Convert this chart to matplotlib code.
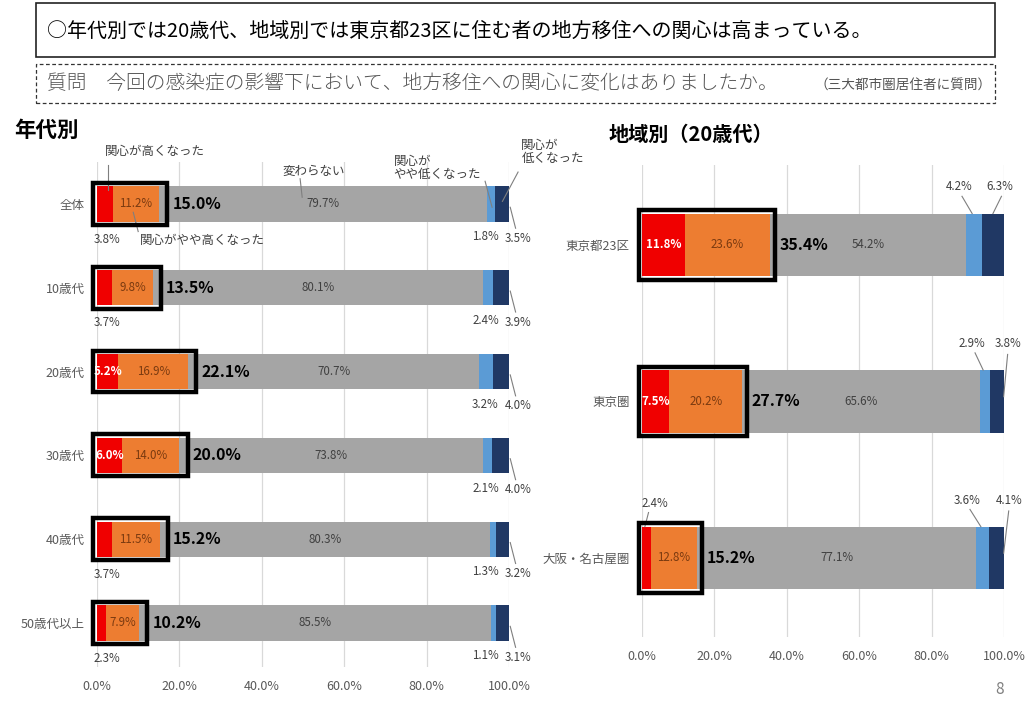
import matplotlib
matplotlib.use("Agg")
import matplotlib.pyplot as plt
from matplotlib.patches import Rectangle

plt.rcParams['font.family'] = ['Noto Sans CJK JP', 'DejaVu Sans']

# ---------------- data ----------------
age_cats = ["全体", "10歳代", "20歳代", "30歳代", "40歳代", "50歳代以上"]
age_high = [3.8, 3.7, 5.2, 6.0, 3.7, 2.3]
age_somewhat_high = [11.2, 9.8, 16.9, 14.0, 11.5, 7.9]
age_same = [79.7, 80.1, 70.7, 73.8, 80.3, 85.5]
age_somewhat_low = [1.8, 2.4, 3.2, 2.1, 1.3, 1.1]
age_low = [3.5, 3.9, 4.0, 4.0, 3.2, 3.1]
age_total = [15.0, 13.5, 22.1, 20.0, 15.2, 10.2]

reg_cats = ["東京都23区", "東京圏", "大阪・名古屋圏"]
reg_high = [11.8, 7.5, 2.4]
reg_somewhat_high = [23.6, 20.2, 12.8]
reg_same = [54.2, 65.6, 77.1]
reg_somewhat_low = [4.2, 2.9, 3.6]
reg_low = [6.3, 3.8, 4.1]
reg_total = [35.4, 27.7, 15.2]

x_ticks = [0, 20, 40, 60, 80, 100]
x_ticklabels = ["0.0%", "20.0%", "40.0%", "60.0%", "80.0%", "100.0%"]

title_text = "○年代別では20歳代、地域別では東京都23区に住む者の地方移住への関心は高まっている。"
question_text = "質問　今回の感染症の影響下において、地方移住への関心に変化はありましたか。"
question_note = "（三大都市圏居住者に質問）"
left_heading = "年代別"
right_heading = "地域別（20歳代）"

# ---------------- style ----------------
C_RED = "#F00000"
C_ORANGE = "#ED7D31"
C_GRAY = "#A5A5A5"
C_LBLUE = "#5B9BD5"
C_NAVY = "#203864"
C_GRID = "#D9D9D9"
C_TXT = "#404040"
C_TICK = "#595959"
C_ORTXT = "#7A3A10"
SUM_FONT = ['Liberation Sans Narrow', 'Noto Sans CJK JP', 'DejaVu Sans']
FS_LBL = 8.3
FS_NOTE = 9.0

W, H = 1034, 717
fig = plt.figure(figsize=(W / 100, H / 100), dpi=100)


def fx(px):
    return px / W


def fy(py):
    return 1 - py / H


# header boxes
fig.patches.append(Rectangle((fx(36), fy(57)), fx(995) - fx(36), fy(3) - fy(57),
                             transform=fig.transFigure, fill=False, lw=1.2,
                             edgecolor="#222222"))
fig.text(fx(47), fy(31), title_text, fontsize=14.4, color="black",
         va="center", ha="left")
fig.patches.append(Rectangle((fx(36), fy(103)), fx(995) - fx(36), fy(64) - fy(103),
                             transform=fig.transFigure, fill=False, lw=0.9,
                             edgecolor="#333333", linestyle=(0, (3, 2))))
fig.text(fx(47), fy(84), question_text, fontsize=14.2, color="#555555",
         va="center", ha="left", fontweight="light")
fig.text(fx(995 - 3), fy(86), question_note, fontsize=9.8, color="#555555",
         va="center", ha="right")

fig.text(fx(14), fy(130), left_heading, fontsize=15.5, fontweight="bold",
         va="center", ha="left")
fig.text(fx(609), fy(134), right_heading, fontsize=14.5, fontweight="bold",
         va="center", ha="left")
fig.text(fx(1000), fy(690), "8", fontsize=11, color="#808080",
         va="center", ha="center")


def setup_axes(ax, cats):
    ax.set_xlim(0, 100)
    ax.set_xticks(x_ticks)
    ax.set_xticklabels(x_ticklabels)
    ax.set_yticks(range(len(cats)))
    ax.set_yticklabels(cats)
    ax.tick_params(axis="both", length=0, colors=C_TICK, labelsize=9)
    ax.tick_params(axis="x", pad=9)
    ax.tick_params(axis="y", pad=9)
    for s in ax.spines.values():
        s.set_visible(False)
    ax.grid(axis="x", color=C_GRID, lw=0.9)
    ax.set_axisbelow(True)


def draw_bars(ax, cats, series, colors, height):
    lefts = [0.0] * len(cats)
    for vals, col in zip(series, colors):
        ax.barh(range(len(cats)), vals, left=lefts, height=height, color=col,
                edgecolor="none", zorder=2)
        lefts = [l + v for l, v in zip(lefts, vals)]


def seg_center(series, k, i):
    start = sum(s[i] for s in series[:k])
    return start + series[k][i] / 2


colors = [C_RED, C_ORANGE, C_GRAY, C_LBLUE, C_NAVY]
line_kw = dict(color="#7F7F7F", lw=0.8, clip_on=False, zorder=5)

# ---------------- left panel ----------------
axL = fig.add_axes([fx(97), fy(667), fx(509) - fx(97), fy(162) - fy(667)])
setup_axes(axL, age_cats)
axL.set_ylim(len(age_cats) - 1 + 0.525, -0.50)
hL = 0.42
seriesL = [age_high, age_somewhat_high, age_same, age_somewhat_low, age_low]
draw_bars(axL, age_cats, seriesL, colors, hL)

for i in range(len(age_cats)):
    # highlight box
    axL.add_patch(Rectangle((-1.0, i - hL / 2 - 0.04), age_total[i] + 3.0, hL + 0.08,
                            fill=False, lw=3.2, edgecolor="black", zorder=6,
                            clip_on=False))
    axL.text(age_total[i] + 3.3, i, f"{age_total[i]:.1f}%", fontsize=11.5,
             fontweight="bold", family=SUM_FONT, va="center", ha="left",
             zorder=7)
    # red label
    if age_high[i] >= 5:
        axL.text(seg_center(seriesL, 0, i), i, f"{age_high[i]:.1f}%", fontsize=FS_LBL,
                 color="white", fontweight="bold", va="center", ha="center", zorder=7)
    else:
        axL.text(2.4, i + 0.42, f"{age_high[i]:.1f}%", fontsize=FS_LBL, color=C_TXT,
                 va="center", ha="center")
    axL.text(seg_center(seriesL, 1, i), i, f"{age_somewhat_high[i]:.1f}%",
             fontsize=FS_LBL, color=C_ORTXT, va="center", ha="center", zorder=7)
    axL.text(seg_center(seriesL, 2, i), i, f"{age_same[i]:.1f}%", fontsize=FS_LBL,
             color=C_TXT, va="center", ha="center", zorder=7)
    axL.text(94.3, i + 0.39, f"{age_somewhat_low[i]:.1f}%", fontsize=FS_LBL,
             color=C_TXT, va="center", ha="center", clip_on=False)
    axL.text(102.3, i + 0.41, f"{age_low[i]:.1f}%", fontsize=FS_LBL,
             color=C_TXT, va="center", ha="center", clip_on=False)
    axL.plot([100.3, 101.6], [i + 0.04, i + 0.29], **line_kw)

# callouts on the first row
axL.text(1.8, -0.63, "関心が高くなった", fontsize=FS_NOTE, color=C_TXT, va="center", ha="left")
axL.plot([2.6, 2.6], [-0.47, -0.17], **line_kw)
axL.text(10.5, 0.44, "関心がやや高くなった", fontsize=FS_NOTE, color=C_TXT, va="center", ha="left")
axL.plot([8.8, 10.0], [0.10, 0.33], **line_kw)
axL.text(52.5, -0.39, "変わらない", fontsize=FS_NOTE, color=C_TXT, va="center", ha="center")
axL.plot([49.3, 49.8], [-0.30, -0.08], **line_kw)
axL.text(72.0, -0.43, "関心が\nやや低くなった", fontsize=FS_NOTE, color=C_TXT,
         va="center", ha="left", linespacing=1.0)
axL.plot([94.2, 95.9], [-0.27, 0.04], **line_kw)
axL.text(103.0, -0.62, "関心が\n低くなった", fontsize=FS_NOTE, color=C_TXT,
         va="center", ha="left", linespacing=1.0, clip_on=False)
axL.plot([102.2, 98.4], [-0.38, -0.03], **line_kw)

# ---------------- right panel ----------------
axR = fig.add_axes([fx(642), fy(637), fx(1004) - fx(642), fy(165) - fy(637)])
setup_axes(axR, reg_cats)
axR.set_ylim(len(reg_cats) - 1 + 0.505, -0.51)
hR = 0.40
seriesR = [reg_high, reg_somewhat_high, reg_same, reg_somewhat_low, reg_low]
draw_bars(axR, reg_cats, seriesR, colors, hR)

blue_lbl_x = [87.6, 91.2, 89.8]
navy_lbl_x = [98.9, 101.1, 101.4]
for i in range(len(reg_cats)):
    axR.add_patch(Rectangle((-0.8, i - hR / 2 - 0.022), reg_total[i] + 2.2, hR + 0.044,
                            fill=False, lw=3.2, edgecolor="black", zorder=6,
                            clip_on=False))
    axR.text(reg_total[i] + 2.6, i, f"{reg_total[i]:.1f}%", fontsize=11.5,
             fontweight="bold", family=SUM_FONT, va="center", ha="left", zorder=7)
    if reg_high[i] >= 5:
        axR.text(seg_center(seriesR, 0, i), i, f"{reg_high[i]:.1f}%", fontsize=FS_LBL,
                 color="white", fontweight="bold", va="center", ha="center", zorder=7)
    else:
        axR.text(3.6, i - 0.345, f"{reg_high[i]:.1f}%", fontsize=FS_LBL, color=C_TXT,
                 va="center", ha="center")
        axR.plot([1.8, 0.8], [i - 0.29, i - 0.20], **line_kw)
    axR.text(seg_center(seriesR, 1, i), i, f"{reg_somewhat_high[i]:.1f}%",
             fontsize=FS_LBL, color=C_ORTXT, va="center", ha="center", zorder=7)
    axR.text(seg_center(seriesR, 2, i), i, f"{reg_same[i]:.1f}%", fontsize=FS_LBL,
             color=C_TXT, va="center", ha="center", zorder=7)
    blue_c = seg_center(seriesR, 3, i)
    navy_c = seg_center(seriesR, 4, i)
    axR.text(blue_lbl_x[i], i - 0.37, f"{reg_somewhat_low[i]:.1f}%", fontsize=FS_LBL,
             color=C_TXT, va="center", ha="center", clip_on=False)
    axR.plot([blue_lbl_x[i] + 0.8, blue_c - 0.5], [i - 0.31, i - hR / 2], **line_kw)
    axR.text(navy_lbl_x[i], i - 0.37, f"{reg_low[i]:.1f}%", fontsize=FS_LBL,
             color=C_TXT, va="center", ha="center", clip_on=False)
    if i == 0:
        axR.plot([navy_lbl_x[i] + 0.4, navy_c], [i - 0.31, i - hR / 2], **line_kw)
    else:
        axR.plot([navy_lbl_x[i] - 0.1, 99.9], [i - 0.30, i - 0.03], **line_kw)

fig.savefig("out.png", dpi=100)
